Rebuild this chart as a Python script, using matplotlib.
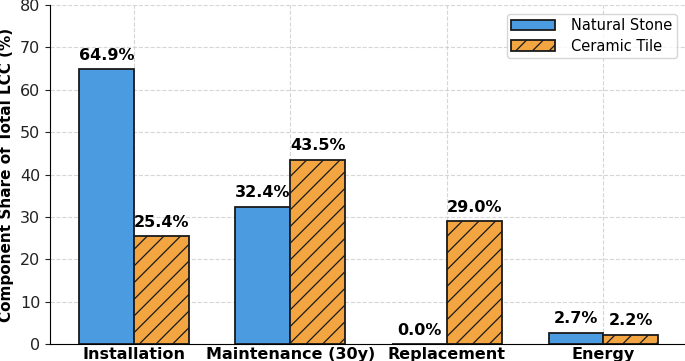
import numpy as np
import matplotlib.pyplot as plt

categories = ["Installation", "Maintenance (30y)", "Replacement", "Energy"]
natural_stone = [64.9, 32.4, 0.0, 2.7]
ceramic_tile = [25.4, 43.5, 29.0, 2.2]

x = np.arange(len(categories))
w = 0.35

plt.rcParams["hatch.linewidth"] = 0.9

fig = plt.figure(figsize=(6.85, 3.61), dpi=100)
ax = fig.add_axes([0.073, 0.047, 0.93, 0.939])

b1 = ax.bar(x - w / 2, natural_stone, w, color="#4b9be0", edgecolor="#1a1a1a",
            linewidth=1.3, label="Natural Stone")
b2 = ax.bar(x + w / 2, ceramic_tile, w, color="#f2a540", edgecolor="#1a1a1a",
            linewidth=1.3, hatch="//", label="Ceramic Tile")

for bars in (b1, b2):
    for b in bars:
        h = b.get_height()
        ax.text(b.get_x() + b.get_width() / 2, h + 1.5, f"{h:.1f}%",
                ha="center", va="bottom", fontsize=11.5, fontweight="bold")

ax.set_ylim(0, 80)
ax.set_xticks(x)
ax.set_xticklabels(categories, fontsize=11.5, fontweight="bold")
ax.tick_params(axis="y", labelsize=11.5, colors="#222222")
ax.tick_params(axis="x", length=0, pad=2)
ax.set_ylabel("Component Share of Total LCC (%)", fontsize=11, fontweight="bold",
              labelpad=4)
ax.grid(True, linestyle="--", color="#cccccc", alpha=0.8)
ax.set_axisbelow(True)
ax.spines["top"].set_visible(False)
ax.spines["right"].set_visible(False)
ax.legend(loc="upper right", fontsize=10.5, bbox_to_anchor=(0.995, 0.995),
          handlelength=3.0, handletextpad=1.1, labelspacing=0.35,
          borderpad=0.3, frameon=True)

fig.savefig("out.png", dpi=100)
